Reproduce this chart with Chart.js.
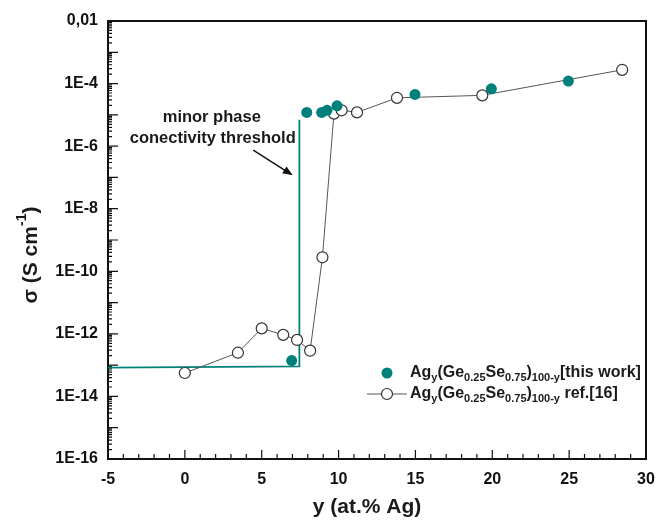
<!DOCTYPE html>
<html>
<head>
<meta charset="utf-8">
<script src="https://cdn.jsdelivr.net/npm/chart.js@4.4.1/dist/chart.umd.min.js"></script>
<style>
  body { margin: 0; background: #fff; }
  canvas { display: block; }
</style>
</head>
<body>
<canvas id="chart" width="657" height="520"></canvas>
<script>
  // ref.[16] - open circles joined by a line
  let refX = [0, 3.45, 5.0, 6.4, 7.3, 8.15, 8.95, 9.7, 10.2, 11.2, 13.8, 19.35, 28.45];
  let refY = [5.6e-14, 2.5e-13, 1.5e-12, 9.3e-13, 6.4e-13, 2.9e-13, 2.8e-10, 1.1e-5, 1.4e-5, 1.2e-5, 3.5e-5, 4.2e-5, 2.75e-4];

  // this work - filled teal circles
  let workX = [6.95, 7.93, 8.9, 9.25, 9.9, 14.97, 19.94, 24.95];
  let workY = [1.4e-13, 1.2e-5, 1.2e-5, 1.4e-5, 1.95e-5, 4.5e-5, 6.8e-5, 1.2e-4];

  // percolation threshold guide line
  let thrX = [-5, 7.45, 7.45];
  let thrY = [8.3e-14, 9.2e-14, 7e-6];

  // axis ticks
  let xTicks = [-5, 0, 5, 10, 15, 20, 25, 30];
  let yDecades = [-16, -15, -14, -13, -12, -11, -10, -9, -8, -7, -6, -5, -4, -3, -2];
  let yLabelled = [-16, -14, -12, -10, -8, -6, -4, -2];

  const TEAL = '#00807a';
  const FONT = '"Liberation Sans", Arial, sans-serif';

  function pts(xs, ys) {
      return xs.map((x, i) => ({ x: x, y: ys[i] }));
  }

  // draws text with sub/superscripts: parts = [[text, 0|1|-1]]
  function drawRich(ctx, x, y, parts, size) {
      let cx = x;
      parts.forEach(p => {
          let small = p[1] !== 0;
          ctx.font = 'bold ' + (small ? Math.round(size * 0.68) : size) + 'px ' + FONT;
          let dy = p[1] === 1 ? size * 0.32 : (p[1] === -1 ? -size * 0.4 : 0);
          ctx.fillText(p[0], cx, y + dy);
          cx += ctx.measureText(p[0]).width;
      });
      return cx - x;
  }

  function richWidth(ctx, parts, size) {
      let w = 0;
      parts.forEach(p => {
          ctx.font = 'bold ' + (p[1] !== 0 ? Math.round(size * 0.68) : size) + 'px ' + FONT;
          w += ctx.measureText(p[0]).width;
      });
      return w;
  }

  let decor = {
      id: 'decor',
      beforeDatasetsDraw(chart) {
          let ctx = chart.ctx;
          let a = chart.chartArea;
          let xs = chart.scales.x, ys = chart.scales.y;
          ctx.save();
          ctx.strokeStyle = '#111';
          ctx.lineWidth = 1.2;
          ctx.beginPath();
          // y ticks, major at each decade, minor in between
          yDecades.forEach(e => {
              let py = ys.getPixelForValue(Math.pow(10, e));
              ctx.moveTo(a.left, py); ctx.lineTo(a.left + 10, py);
              if (e < -2) {
                  for (let k = 2; k <= 9; k++) {
                      let my = ys.getPixelForValue(k * Math.pow(10, e));
                      ctx.moveTo(a.left, my); ctx.lineTo(a.left + 4, my);
                  }
              }
          });
          // x ticks
          for (let v = -5; v <= 30; v++) {
              let px = xs.getPixelForValue(v);
              let len = v % 5 === 0 ? 9 : 5;
              ctx.moveTo(px, a.bottom); ctx.lineTo(px, a.bottom - len);
          }
          ctx.stroke();
          // frame
          ctx.lineWidth = 2;
          ctx.strokeRect(a.left, a.top, a.right - a.left, a.bottom - a.top);
          ctx.restore();
      },
      afterDatasetsDraw(chart) {
          let ctx = chart.ctx;
          let a = chart.chartArea;
          let xs = chart.scales.x, ys = chart.scales.y;
          ctx.save();

          // annotation
          ctx.fillStyle = '#1a1a1a';
          ctx.font = 'bold 16.5px ' + FONT;
          ctx.textAlign = 'center';
          ctx.textBaseline = 'middle';
          let tx = xs.getPixelForValue(1.75);
          let ty = ys.getPixelForValue(Math.pow(10, -5.07));
          ctx.fillText('minor phase', tx, ty);
          ctx.fillText('conectivity threshold', tx + 1, ty + 21);

          // arrow
          let x0 = xs.getPixelForValue(4.45), y0 = ys.getPixelForValue(Math.pow(10, -6.13));
          let x1 = xs.getPixelForValue(7.02), y1 = ys.getPixelForValue(Math.pow(10, -6.93));
          let ang = Math.atan2(y1 - y0, x1 - x0);
          ctx.strokeStyle = '#111';
          ctx.lineWidth = 1.5;
          ctx.beginPath();
          ctx.moveTo(x0, y0);
          ctx.lineTo(x1 - 6 * Math.cos(ang), y1 - 6 * Math.sin(ang));
          ctx.stroke();
          ctx.fillStyle = '#111';
          ctx.beginPath();
          ctx.moveTo(x1, y1);
          ctx.lineTo(x1 - 10 * Math.cos(ang) + 4 * Math.sin(ang), y1 - 10 * Math.sin(ang) - 4 * Math.cos(ang));
          ctx.lineTo(x1 - 10 * Math.cos(ang) - 4 * Math.sin(ang), y1 - 10 * Math.sin(ang) + 4 * Math.cos(ang));
          ctx.closePath();
          ctx.fill();

          // legend
          let mx = a.right - 259;
          let r1 = a.bottom - 86, r2 = a.bottom - 65;
          ctx.fillStyle = TEAL;
          ctx.beginPath();
          ctx.arc(mx, r1, 5.5, 0, Math.PI * 2);
          ctx.fill();
          ctx.strokeStyle = '#555';
          ctx.lineWidth = 1;
          ctx.beginPath();
          ctx.moveTo(mx - 20, r2); ctx.lineTo(mx + 20, r2);
          ctx.stroke();
          ctx.fillStyle = '#fff';
          ctx.strokeStyle = '#333';
          ctx.lineWidth = 1.2;
          ctx.beginPath();
          ctx.arc(mx, r2, 5.5, 0, Math.PI * 2);
          ctx.fill();
          ctx.stroke();

          ctx.fillStyle = '#1a1a1a';
          ctx.textAlign = 'left';
          ctx.textBaseline = 'middle';
          let formula = [['Ag', 0], ['y', 1], ['(Ge', 0], ['0.25', 1], ['Se', 0], ['0.75', 1], [')', 0], ['100-y', 1]];
          drawRich(ctx, mx + 23, r1, formula.concat([['[this work]', 0]]), 16);
          drawRich(ctx, mx + 23, r2, formula.concat([[' ref.[16]', 0]]), 16);

          // axis titles
          ctx.font = 'bold 21px ' + FONT;
          ctx.textAlign = 'center';
          ctx.fillText('y (at.% Ag)', 367, 507);

          ctx.translate(31, 255);
          ctx.rotate(-Math.PI / 2);
          let yt = [['σ (S cm', 0], ['-1', -1], [')', 0]];
          let w = richWidth(ctx, yt, 21);
          ctx.textAlign = 'left';
          drawRich(ctx, -w / 2, 0, yt, 21);
          ctx.restore();
      }
  };

  let datos = {
      datasets: [
          {
              label: 'this work',
              data: pts(workX, workY),
              showLine: false,
              pointRadius: 5.5,
              pointBackgroundColor: TEAL,
              pointBorderColor: TEAL,
              pointBorderWidth: 0,
          },
          {
              label: 'ref.[16]',
              data: pts(refX, refY),
              showLine: true,
              borderColor: '#555',
              borderWidth: 1,
              pointRadius: 5.5,
              pointBackgroundColor: '#fff',
              pointBorderColor: '#333',
              pointBorderWidth: 1.2,
          },
          {
              label: 'threshold',
              data: pts(thrX, thrY),
              showLine: true,
              borderColor: TEAL,
              borderWidth: 1.8,
              pointRadius: 0,
          }
      ]
  };

  let opciones = {
      responsive: false,
      animation: false,
      layout: { padding: { left: 0, right: 11, top: 21, bottom: 0 } },
      scales: {
          x: {
              type: 'linear',
              min: -5,
              max: 30,
              grid: { display: false, drawTicks: false },
              border: { display: false },
              afterBuildTicks: s => { s.ticks = xTicks.map(v => ({ value: v })); },
              afterFit: s => { s.height = 61; s.paddingLeft = 0; s.paddingRight = 0; },
              ticks: {
                  color: '#111',
                  padding: 11,
                  maxRotation: 0,
                  font: { family: FONT, size: 16, weight: 'bold' },
                  callback: v => String(v),
              },
          },
          y: {
              type: 'logarithmic',
              min: 1e-16,
              max: 1e-2,
              grid: { display: false, drawTicks: false },
              border: { display: false },
              afterBuildTicks: s => { s.ticks = yLabelled.map(e => ({ value: Math.pow(10, e) })); },
              afterFit: s => { s.width = 108; s.paddingTop = 0; s.paddingBottom = 0; },
              ticks: {
                  color: '#111',
                  padding: 10,
                  font: { family: FONT, size: 16, weight: 'bold' },
                  callback: v => {
                      let e = Math.round(Math.log10(v));
                      return e === -2 ? '0,01' : '1E' + e;
                  },
              },
          },
      },
      plugins: {
          legend: { display: false },
          tooltip: { enabled: false },
      },
  };

  let ctx = document.getElementById('chart').getContext('2d');
  let miGrafica = new Chart(ctx, {
      type: 'scatter',
      data: datos,
      options: opciones,
      plugins: [decor],
  });
</script>
</body>
</html>
